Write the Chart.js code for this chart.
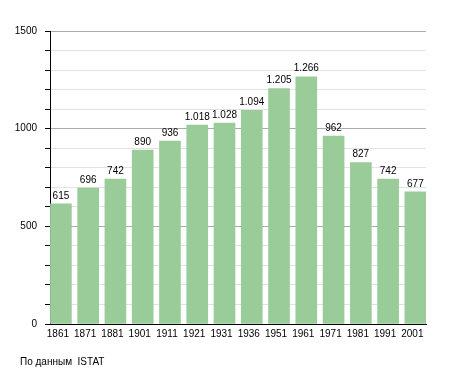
<!DOCTYPE html>
<html><head><meta charset="utf-8">
<script src="https://cdn.jsdelivr.net/npm/chart.js@4"></script>
<style>
html,body{margin:0;padding:0;background:#fff;}
#wrap{position:relative;width:455px;height:373px;}
#src{position:absolute;left:20px;top:356px;font:10px "Liberation Sans",Arial,sans-serif;color:#000;}
</style></head>
<body><div id="wrap"><canvas id="c" width="455" height="373"></canvas><div id="src">По данным&nbsp; ISTAT</div></div>
<script>
const years = ["1861","1871","1881","1901","1911","1921","1931","1936","1951","1961","1971","1981","1991","2001"];
const population = [615,696,742,890,936,1018,1028,1094,1205,1266,962,827,742,677];
const yTickLabels = [0,500,1000,1500];

function fmt(v){return String(v).replace(/\B(?=(\d{3})+(?!\d))/g,'.');}
const FONT = '"Liberation Sans", Arial, sans-serif';

const valueLabels = {
  id:'valueLabels',
  afterDatasetsDraw(chart){
    const ctx = chart.ctx;
    const meta = chart.getDatasetMeta(0);
    ctx.save();
    ctx.font = '10px ' + FONT;
    ctx.fillStyle = '#000';
    ctx.textAlign = 'center';
    ctx.textBaseline = 'bottom';
    meta.data.forEach((bar,i)=>{
      ctx.fillText(fmt(population[i]), bar.x, bar.y - 3);
    });
    ctx.restore();
  }
};

new Chart(document.getElementById('c'), {
  type:'bar',
  data:{datasets:[{data:population.map((v,i)=>({x:i,y:v})), backgroundColor:'#99cc99', borderWidth:0, barThickness:21}]},
  options:{
    responsive:false, animation:false,
    layout:{padding:{top:31,right:29,left:0,bottom:29}},
    plugins:{legend:{display:false}, tooltip:{enabled:false}},
    scales:{
      x:{
        type:'linear', min:-0.4, max:13.39, offset:false,
        grid:{display:false, drawTicks:false},
        border:{display:true,color:'#000',width:1},
        ticks:{stepSize:1, includeBounds:false, color:'#000', font:{family:FONT, size:10}, padding:4, labelOffset:-3, maxRotation:0, autoSkip:false,
          callback:(v)=> Number.isInteger(v) && years[v] ? years[v] : ''},
        afterFit(s){s.height=20;}
      },
      y:{
        min:0,max:1500,
        grid:{color:(c)=> (c.tick && c.tick.value % 500 === 0) ? '#aaaaaa' : '#e2e2e2', tickColor:'#000', tickLength:5, lineWidth:1},
        border:{display:true,color:'#000',width:1},
        ticks:{stepSize:100, color:'#000', font:{family:FONT, size:10}, padding:8,
          callback:(v)=> yTickLabels.includes(v) ? String(v) : ''},
        afterFit(s){s.width=50;}
      }
    }
  },
  plugins:[valueLabels]
});
</script></body></html>
